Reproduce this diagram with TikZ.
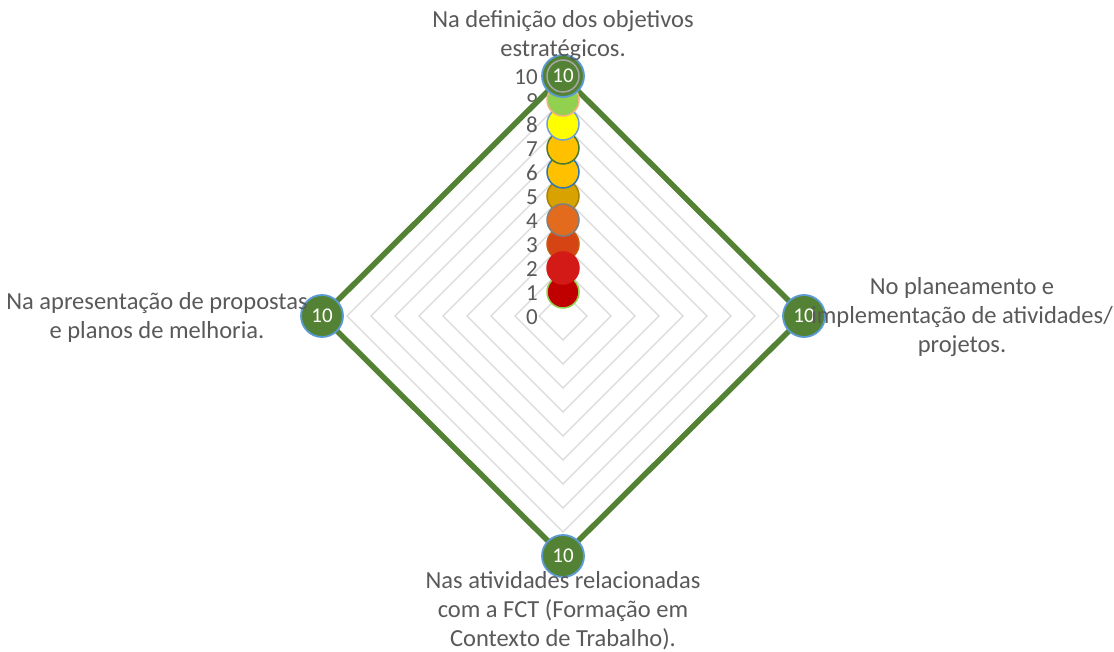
\documentclass[tikz,border=0pt]{standalone}
\usepackage{fontspec}
\setmainfont{Carlito}
\usetikzlibrary{calc}
\definecolor{txt}{HTML}{595959}
\definecolor{grid}{HTML}{D9D9D9}
\definecolor{dgreen}{HTML}{548235}
\definecolor{lblue}{HTML}{5B9BD5}
\begin{document}
\begin{tikzpicture}[x=1pt,y=-1pt,
  cat/.style={text=txt,font=\fontsize{24.5}{29}\selectfont,align=center,inner sep=0pt},
  num/.style={text=txt,font=\fontsize{23}{23}\selectfont,anchor=east,inner sep=0pt},
  bub/.style={circle,minimum size=32pt,inner sep=0pt,line width=1.5pt},
  big/.style={circle,minimum size=42pt,inner sep=0pt,line width=1.8pt,fill=dgreen,draw=lblue,text=white,font=\fontsize{21}{21}\selectfont},
  gridl/.style={draw=grid,line width=1.3pt}]
\useasboundingbox (0,0) rectangle (1114,652);
\coordinate (O) at (563,316);
% grid diamonds
\foreach \k in {1,...,9}{
  \draw[gridl] ($(O)+(0,-24*\k)$) -- ($(O)+(24*\k,0)$) -- ($(O)+(0,24*\k)$) -- ($(O)+(-24*\k,0)$) -- cycle;
}
% axis numbers
\foreach \k in {0,...,10}{
  \node[num] (n\k) at (538,{317-24*\k}) {\k};
}
% main series
\coordinate (T) at (563,76);
\coordinate (R) at (804,316);
\coordinate (B) at (563,556);
\coordinate (L) at (322,316);
\draw[dgreen,line width=5.5pt,line join=miter] (T) -- (R) -- (B) -- (L) -- cycle;
% bubbles
\node[bub,fill={rgb,255:red,192;green,0;blue,0},draw={rgb,255:red,146;green,208;blue,80}] (b1) at (563,292) {};
\node[bub,fill={rgb,255:red,214;green,68;blue,19},draw={rgb,255:red,197;green,90;blue,17}] (b3) at (563,244) {};
\node[bub,fill={rgb,255:red,212;green,26;blue,22},draw={rgb,255:red,212;green,26;blue,22}] (b2) at (563,268) {};
\node[bub,fill={rgb,255:red,216;green,163;blue,0},draw={rgb,255:red,169;green,128;blue,0}] (b5) at (563,196) {};
\node[bub,fill={rgb,255:red,226;green,107;blue,30},draw={rgb,255:red,127;green,127;blue,127}] (b4) at (563,220) {};
\node[bub,fill={rgb,255:red,255;green,192;blue,0},draw={rgb,255:red,46;green,117;blue,182}] (b6) at (563,172) {};
\node[bub,fill={rgb,255:red,255;green,192;blue,0},draw={rgb,255:red,76;green,122;blue,46}] (b7) at (563,148) {};
\node[bub,fill={rgb,255:red,255;green,255;blue,0},draw={rgb,255:red,111;green,159;blue,216}] (b8) at (563,124) {};
\node[bub,fill={rgb,255:red,146;green,208;blue,80},draw={rgb,255:red,244;green,177;blue,131}] (b9) at (563,100) {};
% vertex markers
\node[big] (mT) at (T) {};
\node[bub,fill=dgreen,draw={rgb,255:red,165;green,165;blue,165},text=white,font=\fontsize{21}{21}\selectfont] (b10) at (T) {10};
\node[big] (mR) at (R) {10};
\node[big] (mB) at (B) {10};
\node[big] (mL) at (L) {10};
% category labels
\node[cat] (cT) at (563,36) {Na definição dos objetivos\\estratégicos.};
\node[cat] (cR) at (962,317) {No planeamento e\\implementação de atividades/\\projetos.};
\node[cat] (cB) at (563,611) {Nas atividades relacionadas\\com a FCT (Formação em\\Contexto de Trabalho).};
\node[cat] (cL) at (157,317) {Na apresentação de propostas\\e planos de melhoria.};
\end{tikzpicture}
\end{document}
